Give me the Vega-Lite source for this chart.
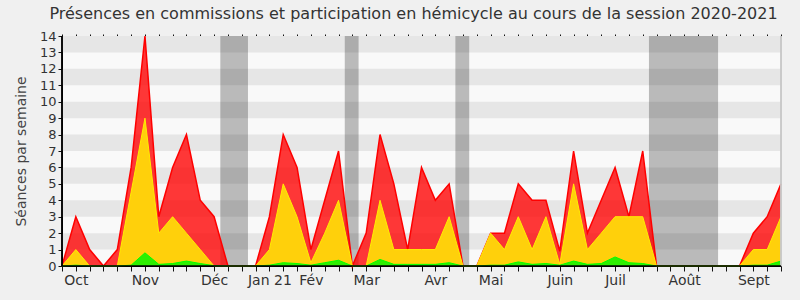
{
  "$schema": "https://vega.github.io/schema/vega-lite/v6.json",
  "autosize": "none",
  "width": 719,
  "height": 230,
  "padding": {"left": 62, "top": 36, "right": 19, "bottom": 34},
  "background": "#f0f0f0",
  "config": {
    "view": {"stroke": null, "fill": "#f9f9f9"},
    "font": "DejaVu Sans",
    "axis": {"ticks": true, "tickOpacity": 1, "tickWidth": 1, "domainOpacity": 1, "domainWidth": 1, "gridOpacity": 0},
    "axisY": {
      "titleFontSize": 14, "titleFontWeight": "normal", "titleColor": "#444444", "titlePadding": 11,
      "labelFontSize": 13, "labelColor": "#333333", "tickSize": 4, "tickColor": "#111111",
      "domainColor": "#111111", "labelPadding": 2, "labelOverlap": false
    }
  },
  "title": {
    "text": "Présences en commissions et participation en hémicycle au cours de la session 2020-2021",
    "font": "DejaVu Sans",
    "fontSize": 16,
    "fontWeight": "normal",
    "color": "#333333",
    "anchor": "middle",
    "dx": -8,
    "offset": 8
  },
  "datasets": {
    "weeks": [
      {"w": 0, "red": 0, "yellow": 0, "green": 0},
      {"w": 1, "red": 3, "yellow": 1, "green": 0.05},
      {"w": 2, "red": 1, "yellow": 0, "green": 0},
      {"w": 3, "red": 0, "yellow": 0, "green": 0},
      {"w": 4, "red": 1, "yellow": 0, "green": 0},
      {"w": 5, "red": 6, "yellow": 4.5, "green": 0.05},
      {"w": 6, "red": 14, "yellow": 9, "green": 0.8},
      {"w": 7, "red": 3, "yellow": 2, "green": 0.1},
      {"w": 8, "red": 6, "yellow": 3, "green": 0.15},
      {"w": 9, "red": 8, "yellow": 2, "green": 0.3},
      {"w": 10, "red": 4, "yellow": 1, "green": 0.15},
      {"w": 11, "red": 3, "yellow": 0, "green": 0.02},
      {"w": 12, "red": 0, "yellow": 0, "green": 0},
      {"w": 13, "red": 0, "yellow": 0, "green": 0},
      {"w": 14, "red": 0, "yellow": 0, "green": 0},
      {"w": 15, "red": 3, "yellow": 1, "green": 0.05},
      {"w": 16, "red": 8, "yellow": 5, "green": 0.2},
      {"w": 17, "red": 6, "yellow": 3, "green": 0.15},
      {"w": 18, "red": 1, "yellow": 0.2, "green": 0.05},
      {"w": 19, "red": 4, "yellow": 2, "green": 0.2},
      {"w": 20, "red": 7, "yellow": 4, "green": 0.35},
      {"w": 21, "red": 0, "yellow": 0, "green": 0},
      {"w": 22, "red": 2, "yellow": 0, "green": 0},
      {"w": 23, "red": 8, "yellow": 4, "green": 0.4},
      {"w": 24, "red": 5, "yellow": 1, "green": 0.1},
      {"w": 25, "red": 1, "yellow": 1, "green": 0.1},
      {"w": 26, "red": 6, "yellow": 1, "green": 0.1},
      {"w": 27, "red": 4, "yellow": 1, "green": 0.1},
      {"w": 28, "red": 5, "yellow": 3, "green": 0.2},
      {"w": 29, "red": 0, "yellow": 0, "green": 0},
      {"w": 30, "red": 0, "yellow": 0, "green": 0},
      {"w": 31, "red": 2, "yellow": 2, "green": 0.05},
      {"w": 32, "red": 2, "yellow": 1, "green": 0.05},
      {"w": 33, "red": 5, "yellow": 3, "green": 0.25},
      {"w": 34, "red": 4, "yellow": 1, "green": 0.1},
      {"w": 35, "red": 4, "yellow": 3, "green": 0.15},
      {"w": 36, "red": 0.9, "yellow": 0.1, "green": 0.05},
      {"w": 37, "red": 7, "yellow": 5, "green": 0.3},
      {"w": 38, "red": 2, "yellow": 1, "green": 0.1},
      {"w": 39, "red": 4, "yellow": 2, "green": 0.15},
      {"w": 40, "red": 6, "yellow": 3, "green": 0.55},
      {"w": 41, "red": 3, "yellow": 3, "green": 0.2},
      {"w": 42, "red": 7, "yellow": 3, "green": 0.15},
      {"w": 43, "red": 0, "yellow": 0, "green": 0},
      {"w": 44, "red": 0, "yellow": 0, "green": 0},
      {"w": 45, "red": 0, "yellow": 0, "green": 0},
      {"w": 46, "red": 0, "yellow": 0, "green": 0},
      {"w": 47, "red": 0, "yellow": 0, "green": 0},
      {"w": 48, "red": 0, "yellow": 0, "green": 0},
      {"w": 49, "red": 0, "yellow": 0, "green": 0},
      {"w": 50, "red": 2, "yellow": 1, "green": 0.05},
      {"w": 51, "red": 3, "yellow": 1, "green": 0.05},
      {"w": 52, "red": 5, "yellow": 3, "green": 0.3}
    ],
    "stripes": [
      {"lo": 1, "hi": 2}, {"lo": 3, "hi": 4}, {"lo": 5, "hi": 6}, {"lo": 7, "hi": 8},
      {"lo": 9, "hi": 10}, {"lo": 11, "hi": 12}, {"lo": 13, "hi": 14}
    ],
    "breaks": [
      {"start": 11.45, "end": 13.45},
      {"start": 20.45, "end": 21.45},
      {"start": 28.45, "end": 29.45},
      {"start": 42.45, "end": 47.45}
    ]
  },
  "resolve": {"axis": {"x": "independent"}},
  "layer": [
    {
      "data": {"name": "stripes"},
      "mark": {"type": "rect", "color": "#e6e6e6"},
      "encoding": {
        "y": {"field": "lo", "type": "quantitative", "scale": {"domain": [0, 14], "nice": false},
          "axis": {"title": "Séances par semaine", "values": [0,1,2,3,4,5,6,7,8,9,10,11,12,13,14]}},
        "y2": {"field": "hi"}
      }
    },
    {
      "data": {"name": "breaks"},
      "mark": {"type": "rect", "color": "#000000", "opacity": 0.25},
      "encoding": {
        "x": {"field": "start", "type": "quantitative", "scale": {"domain": [0, 52], "nice": false, "zero": false},
          "axis": {"orient": "bottom", "title": null, "values": [0,1,2,3,4,5,6,7,8,9,10,11,12,13,14,15,16,17,18,19,20,21,22,23,24,25,26,27,28,29,30,31,32,33,34,35,36,37,38,39,40,41,42,43,44,45,46,47,48,49,50,51,52],
            "labelExpr": "datum.value == 1 ? 'Oct' : datum.value == 6 ? 'Nov' : datum.value == 11 ? 'Déc' : datum.value == 15 ? 'Jan 21' : datum.value == 18 ? 'Fév' : datum.value == 22 ? 'Mar' : datum.value == 27 ? 'Avr' : datum.value == 31 ? 'Mai' : datum.value == 36 ? 'Juin' : datum.value == 40 ? 'Juil' : datum.value == 45 ? 'Août' : datum.value == 50 ? 'Sept' : ''",
            "encode": {"labels": {"update": {"dx": {"signal": "datum.value == 40 ? 5.5 : datum.value == 27 || datum.value == 36 ? -2.8 : datum.value == 6 || datum.value == 11 || datum.value == 15 || datum.value == 45 ? -1.4 : datum.value == 18 || datum.value == 31 ? 1.4 : 0"}}}},
            "labelFontSize": 14, "labelColor": "#333333", "labelPadding": 2, "labelFlush": false, "labelOverlap": false,
            "tickSize": 5, "tickColor": "#111111", "domainColor": "#111111"}},
        "x2": {"field": "end"}
      }
    },
    {
      "data": {"name": "weeks"},
      "mark": {"type": "area", "color": "#ff0000", "opacity": 0.78},
      "encoding": {
        "x": {"field": "w", "type": "quantitative", "scale": {"domain": [0, 52], "nice": false, "zero": false}, "axis": null},
        "y": {"field": "red", "type": "quantitative", "scale": {"domain": [0, 14], "nice": false},
          "axis": {"title": "Séances par semaine", "values": [0,1,2,3,4,5,6,7,8,9,10,11,12,13,14]}}
      }
    },
    {
      "data": {"name": "weeks"},
      "mark": {"type": "line", "color": "#ff0000", "strokeWidth": 1.5},
      "encoding": {
        "x": {"field": "w", "type": "quantitative", "scale": {"domain": [0, 52], "nice": false, "zero": false}, "axis": null},
        "y": {"field": "red", "type": "quantitative", "scale": {"domain": [0, 14], "nice": false},
          "axis": {"title": "Séances par semaine", "values": [0,1,2,3,4,5,6,7,8,9,10,11,12,13,14]}}
      }
    },
    {
      "data": {"name": "weeks"},
      "mark": {"type": "area", "color": "#ffd60a", "opacity": 0.97},
      "encoding": {
        "x": {"field": "w", "type": "quantitative", "scale": {"domain": [0, 52], "nice": false, "zero": false}, "axis": null},
        "y": {"field": "yellow", "type": "quantitative", "scale": {"domain": [0, 14], "nice": false},
          "axis": {"title": "Séances par semaine", "values": [0,1,2,3,4,5,6,7,8,9,10,11,12,13,14]}}
      }
    },
    {
      "data": {"name": "weeks"},
      "mark": {"type": "line", "color": "#ffee00", "strokeWidth": 1},
      "encoding": {
        "x": {"field": "w", "type": "quantitative", "scale": {"domain": [0, 52], "nice": false, "zero": false}, "axis": null},
        "y": {"field": "yellow", "type": "quantitative", "scale": {"domain": [0, 14], "nice": false},
          "axis": {"title": "Séances par semaine", "values": [0,1,2,3,4,5,6,7,8,9,10,11,12,13,14]}}
      }
    },
    {
      "data": {"name": "weeks"},
      "mark": {"type": "area", "color": "#22f000", "opacity": 0.95},
      "encoding": {
        "x": {"field": "w", "type": "quantitative", "scale": {"domain": [0, 52], "nice": false, "zero": false},
          "axis": {"orient": "top", "title": null, "values": [0,1,2,3,4,5,6,7,8,9,10,11,12,13,14,15,16,17,18,19,20,21,22,23,24,25,26,27,28,29,30,31,32,33,34,35,36,37,38,39,40,41,42,43,44,45,46,47,48,49,50,51,52],
            "labels": false, "domain": false, "tickSize": 2, "tickColor": "#111111"}},
        "y": {"field": "green", "type": "quantitative", "scale": {"domain": [0, 14], "nice": false},
          "axis": {"title": "Séances par semaine", "values": [0,1,2,3,4,5,6,7,8,9,10,11,12,13,14]}}
      }
    },
    {
      "data": {"name": "weeks"},
      "mark": {"type": "line", "color": "#00ff00", "strokeWidth": 1},
      "encoding": {
        "x": {"field": "w", "type": "quantitative", "scale": {"domain": [0, 52], "nice": false, "zero": false}, "axis": null},
        "y": {"field": "green", "type": "quantitative", "scale": {"domain": [0, 14], "nice": false},
          "axis": {"title": "Séances par semaine", "values": [0,1,2,3,4,5,6,7,8,9,10,11,12,13,14]}}
      }
    },
    {
      "data": {"name": "breaks"},
      "mark": {"type": "rule", "color": "#c8c8c8", "strokeWidth": 1},
      "encoding": {
        "x": {"datum": 52, "type": "quantitative", "axis": null}
      }
    },
    {
      "data": {"name": "breaks"},
      "mark": {"type": "rule", "color": "#000000", "strokeWidth": 1},
      "encoding": {
        "x": {"datum": 0, "type": "quantitative", "axis": null}
      }
    },
    {
      "data": {"name": "breaks"},
      "mark": {"type": "rule", "color": "#000000", "strokeWidth": 1, "opacity": 0.6},
      "encoding": {
        "y": {"datum": 0, "type": "quantitative", "scale": {"domain": [0, 14], "nice": false},
          "axis": {"title": "Séances par semaine", "values": [0,1,2,3,4,5,6,7,8,9,10,11,12,13,14]}}
      }
    }
  ]
}
